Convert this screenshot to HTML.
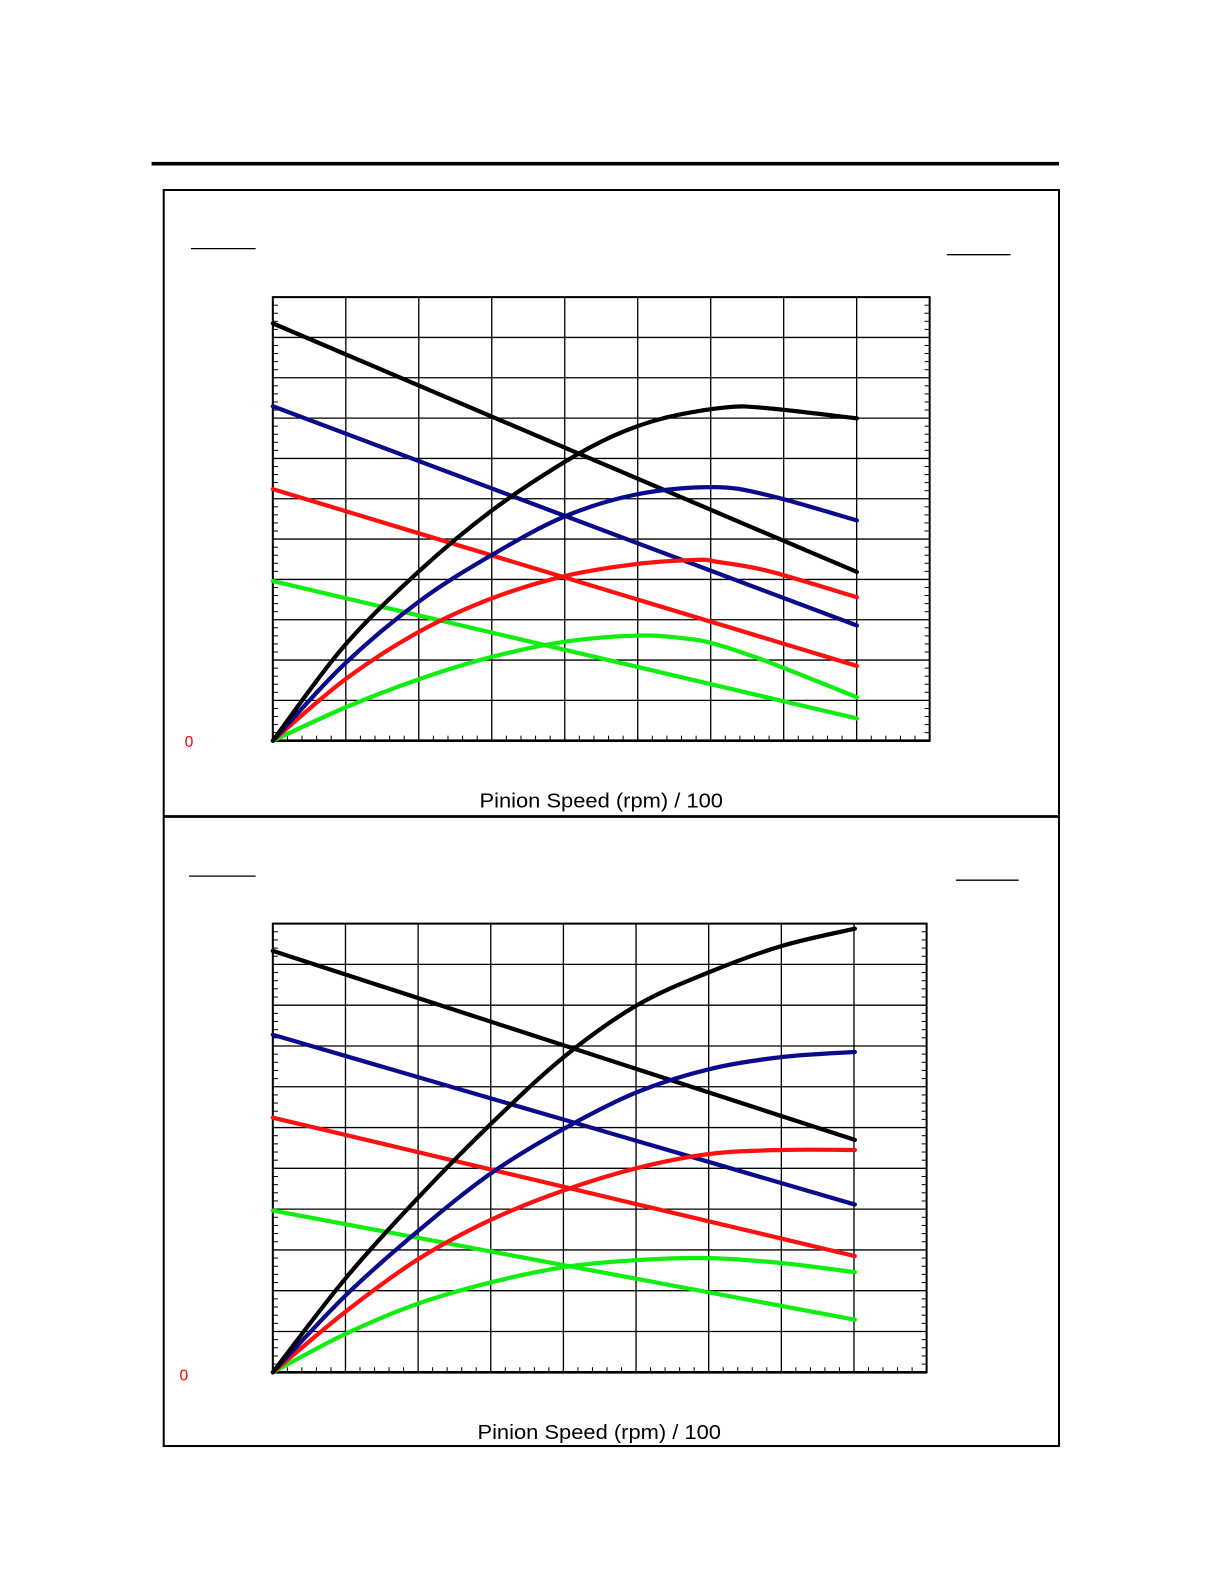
<!DOCTYPE html>
<html><head><meta charset="utf-8"><style>
html,body{margin:0;padding:0;background:#fff;width:1224px;height:1584px;overflow:hidden}
svg{display:block}
text{font-family:"Liberation Sans",Arial,sans-serif}
</style></head><body>
<svg id="s" width="1224" height="1584" viewBox="0 0 1211.3 1567.5" xmlns="http://www.w3.org/2000/svg">
<rect x="0" y="0" width="1211.3" height="1567.5" fill="#fff"/>
<line x1="150" y1="162" x2="1048" y2="162" stroke="#000" stroke-width="3.6"/>
<rect x="162" y="188" width="886" height="1243" fill="none" stroke="#000" stroke-width="2"/>
<line x1="162" y1="808" x2="1048" y2="808" stroke="#000" stroke-width="2.8"/>
<line x1="189" y1="246" x2="253" y2="246" stroke="#000" stroke-width="1.3"/>
<line x1="937" y1="252" x2="1000" y2="252" stroke="#000" stroke-width="1.3"/>
<line x1="187" y1="867" x2="253" y2="867" stroke="#000" stroke-width="1.3"/>
<line x1="946" y1="871" x2="1008" y2="871" stroke="#000" stroke-width="1.3"/>
<text x="187" y="739" font-size="15.5" fill="#e00" text-anchor="middle">0</text>
<text x="182" y="1366" font-size="15.5" fill="#e00" text-anchor="middle">0</text>
<text x="595" y="799" font-size="20.5" text-anchor="middle" textLength="241" lengthAdjust="spacingAndGlyphs">Pinion Speed (rpm) / 100</text>
<text x="593" y="1424" font-size="20.5" text-anchor="middle" textLength="241" lengthAdjust="spacingAndGlyphs">Pinion Speed (rpm) / 100</text>
<g id="g1"></g><g id="g2"></g>
</svg>
<script>
var NS="http://www.w3.org/2000/svg";
function el(p,t,a){var e=document.createElementNS(NS,t);for(var k in a)e.setAttribute(k,a[k]);p.appendChild(e);return e;}
function plot(g,x0,x1,y0,y1,series){
  var nx=9,ny=11,dx=(x1-x0)/nx,dy=(y1-y0)/ny;
  for(var i=1;i<nx;i++)el(g,"line",{x1:x0+i*dx,y1:y0,x2:x0+i*dx,y2:y1,stroke:"#000","stroke-width":1.3});
  for(var j=1;j<ny;j++)el(g,"line",{x1:x0,y1:y0+j*dy,x2:x1,y2:y0+j*dy,stroke:"#000","stroke-width":1.3});
  for(var i=0;i<nx;i++)for(var k=1;k<5;k++){var x=x0+i*dx+k*dx/5;el(g,"line",{x1:x,y1:y1,x2:x,y2:y1-5,stroke:"#000","stroke-width":1});}
  for(var j=0;j<ny;j++)for(var k=1;k<5;k++){var y=y0+j*dy+k*dy/5;
    el(g,"line",{x1:x0,y1:y,x2:x0+5,y2:y,stroke:"#000","stroke-width":1});
    el(g,"line",{x1:x1,y1:y,x2:x1-5,y2:y,stroke:"#000","stroke-width":1});}
  el(g,"rect",{x:x0,y:y0,width:x1-x0,height:y1-y0,fill:"none",stroke:"#000","stroke-width":2});
  el(g,"line",{x1:x0,y1:y1,x2:x1,y2:y1,stroke:"#000","stroke-width":2.6});
  series.forEach(function(s){
    var pts=s[1],d="M"+pts[0][0]+","+pts[0][1];
    for(var i=0;i<pts.length-1;i++){
      var p0=pts[Math.max(0,i-1)],p1=pts[i],p2=pts[i+1],p3=pts[Math.min(pts.length-1,i+2)];
      var c1=[p1[0]+(p2[0]-p0[0])/6,p1[1]+(p2[1]-p0[1])/6],c2=[p2[0]-(p3[0]-p1[0])/6,p2[1]-(p3[1]-p1[1])/6];
      d+=" C"+c1+" "+c2+" "+p2;
    }
    el(g,"path",{d:d,fill:"none",stroke:s[0],"stroke-width":4.2,"stroke-linecap":"round","stroke-linejoin":"round"});
  });
}
var K="#000",B="#0a0a8c",R="#ff1010",G="#10ee10";
plot(document.getElementById("g1"),270,920,294,733,[
 [G,[[270,575],[848,711]]],[R,[[270,484],[848,659]]],[B,[[270,402],[848,619]]],[K,[[270,320],[848,566]]],
 [G,[[270,733],[342,700],[415,672],[487,650],[559,635],[631,629],[680,632],[710,638],[760,655],[848,690]]],
 [R,[[270,733],[342,672],[415,625],[487,592],[559,570],[631,558],[690,554],[710,556],[760,565],[848,591]]],
 [B,[[270,733],[340,658],[415,595],[487,549],[559,511],[631,489],[706,482],[760,490],[848,515]]],
 [K,[[270,733],[340,640],[415,565],[487,505],[559,457],[610,430],[660,413],[720,403],[760,404],[848,414]]]
]);
plot(document.getElementById("g2"),270,917,914,1358,[
 [G,[[270,1198],[846,1306]]],[R,[[270,1106],[846,1243]]],[B,[[270,1024],[846,1192]]],[K,[[270,941],[846,1128]]],
 [G,[[270,1358],[342,1320],[414,1290],[486,1269],[558,1254],[630,1247],[702,1245],[774,1250],[846,1259]]],
 [R,[[270,1358],[342,1298],[414,1246],[486,1207],[558,1178],[630,1156],[702,1142],[774,1138],[846,1138]]],
 [B,[[270,1358],[342,1282],[414,1218],[486,1161],[558,1117],[630,1081],[702,1058],[774,1046],[846,1041]]],
 [K,[[270,1358],[342,1265],[414,1185],[486,1112],[558,1046],[630,995],[702,962],[774,936],[846,919]]]
]);
</script>
</body></html>
